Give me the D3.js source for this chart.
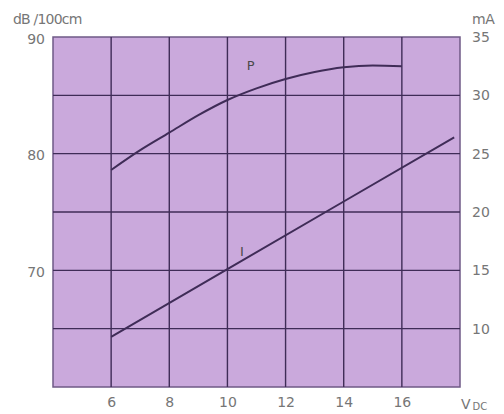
<!DOCTYPE html>
<html>
<head>
<meta charset="utf-8">
<script src="https://cdn.jsdelivr.net/npm/d3@7"></script>
<style>
  body { margin: 0; background: #fff; }
  text { font-family: "DejaVu Sans", sans-serif; fill: #767676; }
</style>
</head>
<body>
<div id="chart"></div>
<script>
// supply voltage (V DC)
const voltsP = [6, 7, 8, 9, 10, 11, 12, 13, 14, 15, 16];
// sound pressure P (dB /100cm)
const levelP = [78.6, 80.3, 81.8, 83.3, 84.6, 85.6, 86.4, 87.0, 87.4, 87.55, 87.5];
// current I (mA)
const voltsI = [6, 10, 14, 17.8];
const currentI = [9.3, 15.1, 20.9, 26.4];

const xTicks = [6, 8, 10, 12, 14, 16];
const leftTicks = [70, 80, 90];
const rightTicks = [10, 15, 20, 25, 30, 35];

const W = 504, H = 414;
const M = { top: 37, right: 44, bottom: 27, left: 53 };

const svg = d3.select("#chart").append("svg")
    .attr("width", W)
    .attr("height", H);

const x = d3.scaleLinear().domain([4, 18]).range([M.left, W - M.right]);
const yL = d3.scaleLinear().domain([60, 90]).range([H - M.bottom, M.top]);
const yR = d3.scaleLinear().domain([5, 35]).range([H - M.bottom, M.top]);

// plot background
svg.append("rect")
    .attr("x", x(4)).attr("y", yL(90))
    .attr("width", x(18) - x(4))
    .attr("height", yL(60) - yL(90))
    .attr("fill", "#caa9dc")
    .attr("stroke", "#6f5a86")
    .attr("stroke-width", 1.5);

// grid
const grid = svg.append("g")
    .attr("stroke", "#3f2c57")
    .attr("stroke-width", 1.4);
grid.selectAll(".gv").data(d3.range(6, 18, 2)).join("line")
    .attr("x1", d => x(d)).attr("x2", d => x(d))
    .attr("y1", yL(90)).attr("y2", yL(60));
grid.selectAll(".gh").data(d3.range(65, 90, 5)).join("line")
    .attr("y1", d => yL(d)).attr("y2", d => yL(d))
    .attr("x1", x(4)).attr("x2", x(18));

// axes (text only)
const axisStyle = g => {
    g.select(".domain").remove();
    g.selectAll(".tick line").remove();
    g.selectAll(".tick text").attr("fill", "#767676").attr("font-size", 14)
        .attr("font-family", "DejaVu Sans, sans-serif");
};
svg.append("g")
    .attr("transform", "translate(0," + (H - M.bottom) + ")")
    .call(d3.axisBottom(x).tickValues(xTicks).tickSize(0).tickPadding(10))
    .call(axisStyle);
svg.append("g")
    .attr("transform", "translate(" + M.left + ",0)")
    .call(d3.axisLeft(yL).tickValues(leftTicks).tickSize(0).tickPadding(8))
    .call(axisStyle)
    .selectAll(".tick text").attr("dy", "0.45em");
svg.append("g")
    .attr("transform", "translate(" + (W - M.right) + ",0)")
    .call(d3.axisRight(yR).tickValues(rightTicks).tickSize(0).tickPadding(12))
    .call(axisStyle);

// curves
const lineP = d3.line()
    .x((d, i) => x(voltsP[i]))
    .y(d => yL(d))
    .curve(d3.curveMonotoneX);
svg.append("path")
    .attr("d", lineP(levelP))
    .attr("fill", "none")
    .attr("stroke", "#3f2c57")
    .attr("stroke-width", 2);

const lineI = d3.line()
    .x((d, i) => x(voltsI[i]))
    .y(d => yR(d));
svg.append("path")
    .attr("d", lineI(currentI))
    .attr("fill", "none")
    .attr("stroke", "#3f2c57")
    .attr("stroke-width", 2);

// curve labels
svg.append("text").attr("x", x(10.8)).attr("y", yL(87.2))
    .attr("font-size", 13).attr("text-anchor", "middle").style("fill", "#4a4a4a")
    .text("P");
svg.append("text").attr("x", x(10.5)).attr("y", yR(16.2))
    .attr("font-size", 13).attr("text-anchor", "middle").style("fill", "#4a4a4a")
    .text("I");

// unit labels
svg.append("text").attr("x", 13).attr("y", 24)
    .attr("font-size", 14).attr("letter-spacing", -0.8)
    .text("dB /100cm");
svg.append("text").attr("x", 472).attr("y", 24)
    .attr("font-size", 14).attr("letter-spacing", -0.5)
    .text("mA");
const vdc = svg.append("text").attr("x", 461).attr("y", 409).attr("font-size", 14);
vdc.append("tspan").text("V");
vdc.append("tspan").attr("font-size", 10).attr("dx", 2).attr("dy", 1).text("DC");
</script>
</body>
</html>
